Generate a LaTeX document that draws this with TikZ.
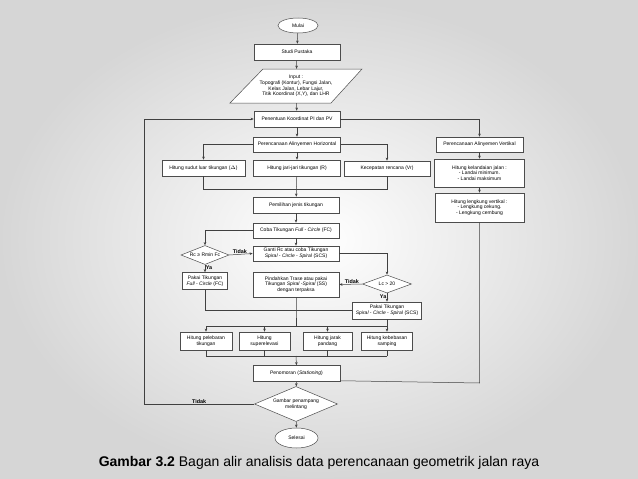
\documentclass[tikz,border=0pt]{standalone}
\usepackage{fontspec}
\setmainfont{Liberation Sans}
\usetikzlibrary{shapes.geometric,arrows.meta,calc}
\tikzset{
  lin/.style={draw=black!75, line width=0.5pt},
  arr/.style={lin, -{Stealth[length=3.2pt,width=2.6pt]}},
  bx/.style={draw=black!70, fill=white, line width=0.5pt, inner sep=0.5pt, align=center,
     font=\fontsize{5}{5.6}\selectfont},
  dia/.style={bx, shape=diamond, inner sep=0pt, aspect=2.5},
  ell/.style={bx, shape=ellipse, inner sep=0pt},
  lab/.style={font=\fontsize{5.4}{6}\selectfont\bfseries, inner sep=0.5pt}
}
\begin{document}
\begin{tikzpicture}[x=1pt,y=-1pt]
\useasboundingbox (0,0) rectangle (638,479);
\shade[inner color=white, outer color=black!16] (0,0) rectangle (638,479);

% column nodes
\node[ell, minimum width=40pt, minimum height=15pt] (mulai) at (298,25.5) {Mulai};
\node[bx, minimum width=86pt, minimum height=16pt] (studi) at (297,52) {Studi Pustaka};
\draw[black!70, fill=white, line width=0.5pt] (263,69) -- (362,69) -- (331,103) -- (230,103) -- cycle;
\node[align=center, font=\fontsize{5}{5.6}\selectfont, minimum width=80pt, minimum height=34pt, inner sep=0pt] (input) at (296,86)
  {Input :\\Topografi (Kontur), Fungsi Jalan,\\Kelas Jalan, Lebar Lajur,\\Titik Koordinat (X,Y), dan LHR};
\node[bx, minimum width=86pt, minimum height=16pt] (pen) at (297,119) {Penentuan Koordinat PI dan PV};
\node[bx, minimum width=87pt, minimum height=15pt] (horiz) at (297,144.5) {Perencanaan Alinyemen Horizontal};
\node[bx, minimum width=83pt, minimum height=16pt] (sudut) at (203.5,168) {Hitung sudut luar tikungan ($\Delta$)};
\node[bx, minimum width=87pt, minimum height=16pt] (jari) at (297,168) {Hitung jari-jari tikungan (R)};
\node[bx, minimum width=86pt, minimum height=15pt] (kec) at (387,168.5) {Kecepatan rencana (Vr)};
\node[bx, minimum width=86pt, minimum height=16pt] (pemilihan) at (296,205) {Pemilihan jenis tikungan};
\node[bx, minimum width=86pt, minimum height=15pt] (coba) at (296,230.5) {Coba Tikungan \textit{Full - Circle} (FC)};
\node[dia, minimum width=48pt, minimum height=19pt] (rc) at (205,255) {Rc ≥ Rmin Fc};
\node[bx, minimum width=86pt, minimum height=15pt] (ganti) at (296,253.5) {Ganti Rc atau coba Tikungan\\\textit{Spiral - Circle - Spiral} (SCS)};
\node[bx, minimum width=45pt, minimum height=17pt] (pakaifc) at (205,281) {Pakai Tikungan\\\textit{Full - Circle} (FC)};
\node[bx, minimum width=86pt, minimum height=25pt] (pindah) at (296,284.5) {Pindahkan Trase atau pakai\\Tikungan \textit{Spiral -Spiral} (SS)\\dengan terpaksa};
\node[dia, minimum width=49pt, minimum height=18pt] (lc) at (387,284) {Lc > 20};
\node[bx, minimum width=69pt, minimum height=17pt] (pakaiscs) at (387,310.5) {Pakai Tikungan\\\textit{Spiral - Circle - Spiral} (SCS)};
\node[bx, minimum width=52pt, minimum height=18pt] (h1) at (206,341) {Hitung pelebaran\\tikungan};
\node[bx, minimum width=51pt, minimum height=18pt] (h2) at (264.5,341) {Hitung\\superelevasi};
\node[bx, minimum width=49pt, minimum height=18pt] (h3) at (327.5,341) {Hitung jarak\\pandang};
\node[bx, minimum width=51pt, minimum height=18pt] (h4) at (387,341) {Hitung kebebasan\\samping};
\node[bx, minimum width=87pt, minimum height=16pt] (penom) at (296.5,373.5) {Penomoran (\textit{Stationing})};
\node[dia, minimum width=83pt, minimum height=35pt] (gambar) at (296,404) {Gambar penampang\\melintang};
\node[ell, minimum width=43pt, minimum height=20pt] (selesai) at (296.5,438) {Selesai};

% vertical column
\node[bx, minimum width=87pt, minimum height=15pt] (vert) at (479.5,144.5) {Perencanaan Alinyemen Vertikal};
\node[bx, minimum width=90pt, minimum height=28pt] (kel) at (479.5,173) {Hitung kelandaian jalan :\\- Landai minimum.\\- Landai maksimum};
\node[bx, minimum width=89pt, minimum height=29pt] (leng) at (479.5,207.5) {Hitung lengkung vertikal :\\- Lengkung cekung.\\- Lengkung cembung};

% helper coordinates
\coordinate (j1) at (297,189);
\coordinate (j2) at (296,310.5);
\coordinate (j3) at (296,326);
\coordinate (j4) at (296,356);
\coordinate (lp) at (144,404);
\coordinate (rp) at (479.5,383);

% connectors
\draw[arr] (mulai) -- (studi);
\draw[arr] (studi) -- (input);
\draw[arr] (input) -- (pen);
\draw[arr] (pen) -- (horiz);
\draw[arr] (horiz) -- (jari);
\draw[arr] (horiz.west) -| (sudut.north);
\draw[arr] (horiz.east) -| (kec.north);
\draw[lin] (sudut.south) -- (sudut.south |- j1) -- (kec.south |- j1) -- (kec.south);
\draw[arr] (jari) -- (pemilihan);
\draw[arr] (pemilihan) -- (coba);
\draw[arr] (coba) -- (ganti);
\draw[arr] (coba.west) -| (rc.north);
\draw[arr] (rc.east) -- node[lab, above, pos=0.45] {Tidak} (ganti.west);
\draw[arr] (rc.south) -- node[lab, right, pos=0.4] {Ya} (pakaifc.north);
\draw[arr] (ganti.east) -| (lc.north);
\draw[arr] (lc.west) -- node[lab, above, pos=0.45] {Tidak} (pindah.east);
\draw[arr] (lc.south) -- node[lab, left, pos=0.4] {Ya} (pakaiscs.north);
\draw[lin] (pakaifc.south) |- (pakaiscs.west);
\draw[lin] (pindah.south) -- (j2) -- (j3);
\draw[lin] (h1.north |- j3) -- (h4.north |- j3);
\draw[lin] (pakaiscs.south) -- (pakaiscs.south |- j3);
\draw[arr] (h1.north |- j3) -- (h1.north);
\draw[arr] (h2.north |- j3) -- (h2.north);
\draw[arr] (h3.north |- j3) -- (h3.north);
\draw[arr] (h4.north |- j3) -- (h4.north);
\draw[lin] (h1.south) -- (h1.south |- j4);
\draw[lin] (h2.south) -- (h2.south |- j4);
\draw[lin] (h3.south) -- (h3.south |- j4);
\draw[lin] (h4.south) -- (h4.south |- j4);
\draw[lin] (h1.south |- j4) -- (h4.south |- j4);
\draw[arr] (j4) -- (penom.north);
\draw[arr] (penom) -- (gambar);
\draw[arr] (gambar) -- (selesai);
\draw[arr] (gambar.west) -- node[lab, above, pos=0.5] {Tidak} (lp) |- (pen.west);
\draw[arr] (pen.east) -| (vert.north);
\draw[arr] (vert) -- (kel);
\draw[arr] (kel) -- (leng);
\draw[lin] (leng.south) -- (rp) -- ($(penom.south east)+(0,-1)$);

% caption
\node[font=\fontsize{14}{16}\selectfont, inner sep=0pt] (cap) at (319,462.5)
  {\textbf{Gambar 3.2} Bagan alir analisis data perencanaan geometrik jalan raya};
\end{tikzpicture}
\end{document}
